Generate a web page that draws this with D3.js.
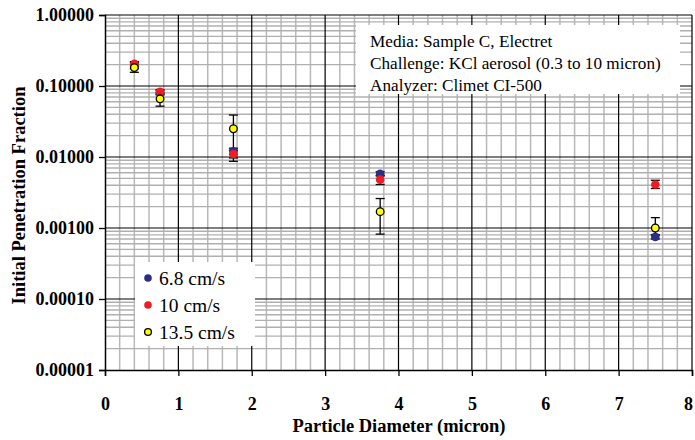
<!DOCTYPE html>
<html>
<head>
<meta charset="utf-8">
<script src="https://cdn.jsdelivr.net/npm/d3@7"></script>
<style>
  html, body { margin: 0; padding: 0; background: #fff; }
  svg { display: block; font-family: "Liberation Serif", "Times New Roman", serif; }
</style>
</head>
<body>
<svg id="chart" width="695" height="440"></svg>
<script>
// Particle diameters (micron)
const diameters = [0.4, 0.75, 1.75, 3.75, 7.5];

// Initial penetration fraction per face velocity, with error-bar limits
const series68 = [0.19, 0.08, 0.012, 0.0058, 0.00075];
const series68Lo = [0.175, 0.075, 0.0108, 0.0054, 0.0007];
const series68Hi = [0.205, 0.086, 0.0133, 0.0062, 0.0008];

const series10 = [0.205, 0.083, 0.011, 0.0048, 0.0041];
const series10Lo = [0.19, 0.077, 0.0097, 0.0041, 0.0036];
const series10Hi = [0.22, 0.089, 0.0125, 0.0055, 0.0047];

const series135 = [0.182, 0.066, 0.025, 0.0017, 0.001];
const series135Lo = [0.156, 0.052, 0.0087, 0.00082, 0.0008];
const series135Hi = [0.215, 0.08, 0.039, 0.0026, 0.0014];

const seriesNames = ["6.8 cm/s", "10 cm/s", "13.5 cm/s"];
const seriesFill = ["#2b2d86", "#ee1c25", "#ffff00"];
const seriesStroke = ["none", "none", "#000"];

const xTicks = [0, 1, 2, 3, 4, 5, 6, 7, 8];
const yTicks = [1, 0.1, 0.01, 0.001, 0.0001, 0.00001];

const infoLines = [
  "Media: Sample C, Electret",
  "Challenge: KCl aerosol (0.3 to 10 micron)",
  "Analyzer: Climet CI-500"
];

const series = [
  { v: series68, lo: series68Lo, hi: series68Hi },
  { v: series10, lo: series10Lo, hi: series10Hi },
  { v: series135, lo: series135Lo, hi: series135Hi }
].map((s, i) => ({
  name: seriesNames[i], fill: seriesFill[i], stroke: seriesStroke[i],
  pts: diameters.map((d, j) => ({ x: d, y: s.v[j], lo: s.lo[j], hi: s.hi[j] }))
}));

const svg = d3.select("#chart");
const L = 105, R = 692, T = 15, B = 370;

const x = d3.scaleLinear().domain([0, 8]).range([L, R]);
const y = d3.scaleLog().domain([0.00001, 1]).range([B, T]);

// Grid: minor lines first, then major lines
const grid = svg.append("g");
const minorX = d3.range(0, 8.0001, 0.2).filter(v => Math.abs(v - Math.round(v)) > 1e-6);
grid.selectAll(".mx").data(minorX).join("line")
  .attr("x1", d => x(d)).attr("x2", d => x(d)).attr("y1", T).attr("y2", B)
  .attr("stroke", "#b8b8b8").attr("stroke-width", 1.5);
const minorY = [];
for (let e = -5; e < 0; e++) for (let k = 2; k <= 9; k++) minorY.push(k * Math.pow(10, e));
grid.selectAll(".my").data(minorY).join("line")
  .attr("x1", L).attr("x2", R).attr("y1", d => y(d)).attr("y2", d => y(d))
  .attr("stroke", "#b0b0b0").attr("stroke-width", 1.3);
grid.selectAll(".Mx").data(xTicks.slice(1)).join("line")
  .attr("x1", d => x(d)).attr("x2", d => x(d)).attr("y1", T).attr("y2", B)
  .attr("stroke", "#000").attr("stroke-width", 1.2);
grid.selectAll(".My").data(yTicks.slice(0, -1)).join("line")
  .attr("x1", L).attr("x2", R).attr("y1", d => y(d)).attr("y2", d => y(d))
  .attr("stroke", "#000").attr("stroke-width", 1.2);

// Axes
const xAxis = svg.append("g").attr("transform", `translate(0,${B})`)
  .call(d3.axisBottom(x).tickValues(xTicks).tickFormat(d3.format("d")).tickSize(6).tickPadding(21));
const yAxis = svg.append("g").attr("transform", `translate(${L},0)`)
  .call(d3.axisLeft(y).tickValues(yTicks).tickFormat(d3.format(".5f")).tickSize(6).tickPadding(5));
[xAxis, yAxis].forEach(a => {
  a.select(".domain").attr("stroke", "#000").attr("stroke-width", 1.5);
  a.selectAll(".tick line").attr("stroke", "#000").attr("stroke-width", 1.3);
  a.selectAll("text").attr("fill", "#000").attr("font-family", "Liberation Serif")
    .attr("font-weight", "bold").attr("font-size", 18);
});
// keep the last x label inside the page
xAxis.selectAll(".tick text").filter(d => d === 8).attr("dx", "-4");

// Axis titles
svg.append("text").attr("x", 399).attr("y", 432).attr("text-anchor", "middle")
  .attr("font-weight", "bold").attr("font-size", 18.5).text("Particle Diameter (micron)");
svg.append("text").attr("transform", `translate(25,${(T + B) / 2 + 3}) rotate(-90)`)
  .attr("text-anchor", "middle").attr("font-weight", "bold").attr("font-size", 18.5)
  .text("Initial Penetration Fraction");

// Error bars, drawn beneath all markers
const eb = svg.append("g").attr("stroke", "#000").attr("stroke-width", 1.3);
series.forEach(s => {
  s.pts.forEach(p => {
    eb.append("line").attr("x1", x(p.x)).attr("x2", x(p.x)).attr("y1", y(p.lo)).attr("y2", y(p.hi));
    [p.lo, p.hi].forEach(v => eb.append("line")
      .attr("x1", x(p.x) - 4.5).attr("x2", x(p.x) + 4.5).attr("y1", y(v)).attr("y2", y(v)));
  });
});

// Markers
series.forEach(s => {
  svg.append("g").selectAll("circle").data(s.pts).join("circle")
    .attr("cx", d => x(d.x)).attr("cy", d => y(d.y)).attr("r", s.stroke === "none" ? 4.3 : 3.8)
    .attr("fill", s.fill).attr("stroke", s.stroke).attr("stroke-width", 1.3);
});

// Info box
const info = svg.append("g");
info.append("rect").attr("x", 356).attr("y", 25).attr("width", 324).attr("height", 69)
  .attr("fill", "#fff");
info.selectAll("text").data(infoLines).join("text")
  .attr("x", 370).attr("y", (d, i) => 47 + i * 22)
  .attr("font-size", 17.2).attr("fill", "#000").text(d => d);

// Legend
const lg = svg.append("g");
lg.append("rect").attr("x", 135).attr("y", 262).attr("width", 120).attr("height", 84).attr("fill", "#fff");
series.forEach((s, i) => {
  const cy = 278 + i * 27;
  lg.append("circle").attr("cx", 148).attr("cy", cy).attr("r", s.stroke === "none" ? 3.8 : 3.4)
    .attr("fill", s.fill).attr("stroke", s.stroke).attr("stroke-width", 1.3);
  lg.append("text").attr("x", 159).attr("y", cy + 6.5).attr("font-size", 19.5).attr("fill", "#000").text(s.name);
});
</script>
</body>
</html>
